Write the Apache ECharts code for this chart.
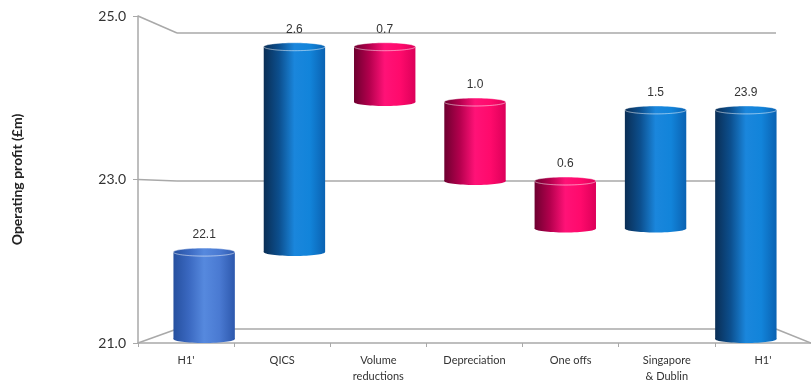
<!DOCTYPE html>
<html>
<head>
<meta charset="utf-8">
<script src="https://cdn.jsdelivr.net/npm/echarts@6/dist/echarts.min.js"></script>
<style>
  html, body { margin: 0; padding: 0; background: #fff; }
  #chart { width: 811px; height: 384px; }
</style>
</head>
<body>
<div id="chart"></div>
<script>
// waterfall data, operating profit in £m
var categories = ['H1\'', 'QICS', 'Volume\nreductions', 'Depreciation', 'One offs', 'Singapore\n& Dublin', 'H1\'']
var changes = [22.1, 2.6, -0.7, -1.0, -0.6, 1.5, 23.9]
var kinds = ['start', 'up', 'down', 'down', 'down', 'up', 'total']
var yTicks = [21, 23, 25]

var lineGrey = '#a9a9a9'
var fontFamily = 'Lato, "Open Sans", sans-serif'

// build [index, low, high, label, kind] rows from the running total
var rows = []
var running = 0
for (var i = 0; i < changes.length; i++) {
  var low, high
  if (kinds[i] === 'start' || kinds[i] === 'total') {
    low = 21
    high = changes[i]
    running = changes[i]
  } else {
    var next = running + changes[i]
    low = Math.min(running, next)
    high = Math.max(running, next)
    running = next
  }
  rows.push([i, low, high, Math.abs(changes[i]).toFixed(1), kinds[i]])
}

function grad (stops) {
  return new echarts.graphic.LinearGradient(0, 0, 1, 0, stops.map(function (c, k) {
    return { offset: k / (stops.length - 1), color: c }
  }))
}

var palettes = {
  start: ['#26509f', '#3a68c0', '#5689de', '#4a7ad2', '#2d58ad'],
  up: ['#0a2e55', '#0c4f8e', '#1a86dc', '#1284da', '#0a62b2'],
  total: ['#0a2e55', '#0c4f8e', '#1a86dc', '#1284da', '#0a62b2'],
  down: ['#6e0030', '#b3004d', '#ff1277', '#ff0a6c', '#dc0059']
}

function renderCylinder (params, api) {
  var idx = api.value(0)
  var top = api.coord([idx, api.value(2)])
  var bot = api.coord([idx, api.value(1)])
  var w = api.size([1, 0])[0] * 0.68
  var ry = 4
  var pal = palettes[rows[params.dataIndex][4]]
  return {
    type: 'group',
    children: [
      {
        type: 'ellipse',
        shape: { cx: top[0], cy: bot[1], rx: w / 2, ry: ry },
        style: { fill: grad(pal) }
      },
      {
        type: 'rect',
        shape: { x: top[0] - w / 2, y: top[1], width: w, height: bot[1] - top[1] },
        style: { fill: grad(pal) }
      },
      {
        type: 'ellipse',
        shape: { cx: top[0], cy: top[1], rx: w / 2, ry: ry },
        style: { fill: grad(pal), stroke: 'rgba(255,255,255,0.35)', lineWidth: 0.8 }
      },
      {
        type: 'text',
        style: {
          text: rows[params.dataIndex][3],
          x: top[0],
          y: top[1] - 17,
          align: 'center',
          verticalAlign: 'middle',
          fill: '#333',
          font: '12px Arial, "Liberation Sans", sans-serif'
        }
      }
    ]
  }
}

var option = {
  animation: false,
  backgroundColor: '#fff',
  grid: [
    // bars (mid depth)
    { left: 159, right: 20, top: 23, bottom: 45 },
    // front axes
    { left: 138, right: 0, top: 16, bottom: 37 },
    // back wall
    { left: 177, right: 35, top: 33, bottom: 55 }
  ],
  xAxis: [
    { gridIndex: 0, type: 'category', data: categories, show: false },
    {
      gridIndex: 1,
      type: 'category',
      data: categories,
      axisLine: { lineStyle: { color: lineGrey, width: 1.5 } },
      axisTick: { show: true, length: 4, lineStyle: { color: lineGrey } },
      axisLabel: {
        color: '#333',
        fontSize: 11,
        fontFamily: fontFamily,
        lineHeight: 16,
        margin: 9
      }
    },
    { gridIndex: 2, type: 'category', data: categories, show: false }
  ],
  yAxis: [
    { gridIndex: 0, type: 'value', min: 21, max: 25, show: false },
    {
      gridIndex: 1,
      type: 'value',
      min: 21,
      max: 25,
      name: 'Operating profit (£m)',
      nameLocation: 'middle',
      nameRotate: 90,
      nameGap: 114,
      nameTextStyle: { color: '#222', fontSize: 14, fontWeight: 'bold', fontFamily: fontFamily },
      axisLine: { show: true, lineStyle: { color: lineGrey, width: 1.5 } },
      axisTick: { show: true, length: 5, customValues: yTicks, lineStyle: { color: lineGrey } },
      splitLine: { show: false },
      axisLabel: {
        customValues: yTicks,
        color: '#333',
        fontSize: 14,
        fontFamily: fontFamily,
        margin: 12,
        formatter: function (v) { return v.toFixed(1) }
      }
    },
    { gridIndex: 2, type: 'value', min: 21, max: 25, show: false }
  ],
  series: [
    {
      // back wall gridlines
      type: 'line',
      xAxisIndex: 2,
      yAxisIndex: 2,
      data: [],
      silent: true,
      markLine: {
        silent: true,
        symbol: 'none',
        label: { show: false },
        lineStyle: { color: lineGrey, width: 1.5, type: 'solid' },
        data: yTicks.map(function (t) { return { yAxis: t } })
      }
    },
    {
      type: 'custom',
      xAxisIndex: 0,
      yAxisIndex: 0,
      renderItem: renderCylinder,
      data: rows,
      z: 5
    }
  ]
}

var chart = echarts.init(document.getElementById('chart'))
chart.setOption(option)

// connect front axis to back wall with the 3D depth lines
var gridFront = chart.getModel().getComponent('grid', 1).coordinateSystem.getRect()
var gridBack = chart.getModel().getComponent('grid', 2).coordinateSystem.getRect()
var depthLines = []
yTicks.forEach(function (t) {
  var a = chart.convertToPixel({ xAxisIndex: 1, yAxisIndex: 1 }, [0, t])
  var b = chart.convertToPixel({ xAxisIndex: 2, yAxisIndex: 2 }, [0, t])
  depthLines.push({
    type: 'line',
    silent: true,
    z: 1,
    shape: { x1: gridFront.x, y1: a[1], x2: gridBack.x, y2: b[1] },
    style: { stroke: lineGrey, lineWidth: 1.5 }
  })
  if (t === yTicks[0]) {
    depthLines.push({
      type: 'line',
      silent: true,
      z: 1,
      shape: { x1: gridFront.x + gridFront.width, y1: a[1], x2: gridBack.x + gridBack.width, y2: b[1] },
      style: { stroke: lineGrey, lineWidth: 1.5 }
    })
  }
})
chart.setOption({ graphic: depthLines })
</script>
</body>
</html>
